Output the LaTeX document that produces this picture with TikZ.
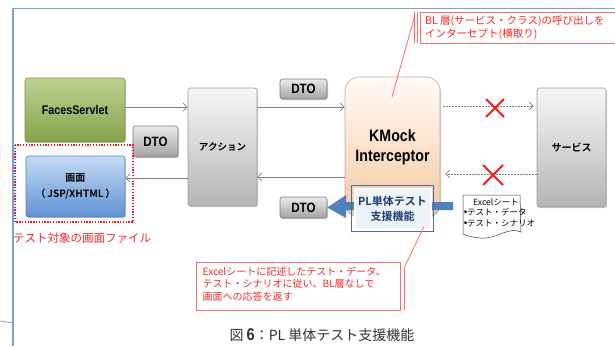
\documentclass[tikz,border=0pt]{standalone}
\usepackage{fontspec}
\setmainfont{Noto Sans CJK JP}[BoldFont={Noto Sans CJK JP Bold}]
\newfontfamily\nar{Liberation Sans}[FakeStretch=0.86]
\usetikzlibrary{arrows.meta,shadows,calc}
\definecolor{framec}{HTML}{7EA0D0}
\definecolor{grtop}{HTML}{BDD291}
\definecolor{grbot}{HTML}{85A24B}
\definecolor{grdraw}{HTML}{7A9448}
\definecolor{bltop}{HTML}{C6DAF5}
\definecolor{blbot}{HTML}{5F93D5}
\definecolor{bldraw}{HTML}{5282C2}
\definecolor{gytop}{HTML}{F6F6F6}
\definecolor{gybot}{HTML}{B5B5B5}
\definecolor{gydraw}{HTML}{9C9C9C}
\definecolor{kmtop}{HTML}{FFFBF7}
\definecolor{kmbot}{HTML}{F6C8A0}
\definecolor{kmdraw}{HTML}{B8AEA6}
\definecolor{plc}{HTML}{4770A8}
\definecolor{plin}{HTML}{EEF3FA}
\definecolor{pltext}{HTML}{1F3D78}
\definecolor{barrow}{HTML}{4F80C0}
\definecolor{redx}{HTML}{FF1A1A}
\definecolor{calred}{HTML}{FF6A6A}
\definecolor{calt}{HTML}{FF2626}
\definecolor{capt}{HTML}{333333}
\definecolor{arrc}{HTML}{808080}
\begin{document}
\begin{tikzpicture}[x=1pt,y=-1pt,
  shade box/.style n args={3}{draw=#3, top color=#1, bottom color=#2, rounded corners=2.5pt, line width=0.6pt,
     drop shadow={shadow xshift=1pt, shadow yshift=-1.2pt, opacity=0.35}, inner sep=0pt, align=center},
  dtobox/.style={shade box={gytop!95!black}{gybot!90!black}{gydraw!80!black}, font=\nar\bfseries\fontsize{13.5}{14}\selectfont},
  arr/.style={draw=arrc, line width=0.7pt, -{Straight Barb[length=4pt,width=8pt]}},
  darr/.style={draw=arrc, line width=0.7pt, dash pattern=on 1.5pt off 1.5pt, -{Straight Barb[length=4pt,width=8pt]}},
  xmark/.style={draw=redx, line width=2pt},
  calbox/.style={draw=calred, line width=0.7pt, fill=white},
  calline/.style={draw=calred, line width=0.8pt},
  caltext/.style={text=calt, align=left, inner sep=0pt}
]
\useasboundingbox (0,0) rectangle (615,346);
\fill[white] (0,0) rectangle (615,346);
% frame
\draw[framec, line width=1.3pt] (13,346) -- (13,8.5) -- (616,8.5);
\draw[framec, line width=0.8pt] (0,321) .. controls (6,321.3) .. (13,323);

% nodes
\node[shade box={grtop}{grbot}{grdraw}, minimum width=100pt, minimum height=64pt,
      font=\nar\bfseries\fontsize{12.5}{14}\selectfont] (fs) at (75,110) {FacesServlet};
\node[shade box={bltop}{blbot}{bldraw}, minimum width=99pt, minimum height=61pt,
      font=\bfseries\fontsize{10}{16}\selectfont] (sc) at (75.5,186.5) {画面\\（\,JSP/XHTML\,）};
\node[shade box={gytop}{gybot}{gydraw}, minimum width=69pt, minimum height=118pt,
      font=\bfseries\fontsize{9.5}{11}\selectfont] (ac) at (222.5,147) {アクション};
\node[shade box={gytop}{gybot}{gydraw}, minimum width=69pt, minimum height=119pt,
      font=\bfseries\fontsize{10}{11}\selectfont] (sv) at (571.5,147.5) {サービス};
\node[shade box={kmtop}{kmbot}{kmdraw}, rounded corners=14pt, minimum width=95pt, minimum height=140pt,
      font=\nar\bfseries\fontsize{16.5}{20}\selectfont] (km) at (392.5,147) {KMock\\Interceptor};
\node[dtobox, minimum width=45pt, minimum height=31pt] (dtoL) at (155.5,141.5) {DTO};
\node[dtobox, minimum width=47pt, minimum height=20pt] (dtoT) at (303.5,89) {DTO};
\node[dtobox, minimum width=47pt, minimum height=21pt] (dtoB) at (303.5,207.5) {DTO};

% red dotted frame and label
\draw[redx, line width=1.5pt, dash pattern=on 1.3pt off 1.5pt] (15,145) rectangle (133,222);
\node[anchor=west, text=calt, inner sep=0pt, font=\fontsize{11.5}{13}\selectfont] (lbl) at (13,238) {テスト対象の画面ファイル};

% arrows
\draw[arr] (fs.east |- 0,107) -- (ac.west |- 0,107);
\draw[arr] (ac.east |- 0,107) -- (km.west |- 0,107);
\draw[darr] ($(km.east |- 0,106)+(3,0)$) -- ($(sv.west |- 0,106)+(-3,0)$);
\draw[darr] (sv.west |- 0,174) -- ($(km.east |- 0,174)+(5,0)$);
\draw[arr] (km.west |- 0,177) -- (ac.east |- 0,177);
\draw[arr] (ac.west |- 0,178) -- (sc.east |- 0,178);

% red crosses
\draw[xmark] (486,99) -- (504,117) (504,99) -- (486,117);
\draw[xmark] (483,165) -- (503,185) (503,165) -- (483,185);

% blue thick arrow
\fill[barrow] (453,202) -- (346,202) -- (346,195) -- (dtoB.east) -- (346,218) -- (346,210) -- (453,210) -- cycle;

% PL box
\node[fill=plin, draw=white, line width=2pt, minimum width=76pt, minimum height=40pt, inner sep=0pt,
      align=center, text=pltext, font=\bfseries\fontsize{11}{15}\selectfont] (pl) at (392.5,208.5) {PL単体テスト\\支援機能};
\draw[plc, line width=1.5pt] ([shift={(-1.8,-1.8)}]pl.north west) rectangle ([shift={(1.8,1.8)}]pl.south east);

% excel sheet
\draw[fill=white, draw=black!75, line width=0.5pt] (463,195) -- (520,195) -- (521,232)
   .. controls (508,226) and (496,240) .. (480,238) .. controls (472,237) and (467,236) .. (463,234) -- cycle;
\node[inner sep=0pt, font=\fontsize{8.5}{10}\selectfont] (xl1) at (496,202) {Excelシート};
\node[anchor=west, inner sep=0pt, font=\fontsize{8.5}{10}\selectfont] (xl2) at (464,212.5) {{\nar\bfseries\fontsize{10}{10}\selectfont •}テスト・データ};
\node[anchor=west, inner sep=0pt, font=\fontsize{8.5}{10}\selectfont] (xl3) at (464,223.5) {{\nar\bfseries\fontsize{10}{10}\selectfont •}テスト・シナリオ};

% top callout
\coordinate (tcA) at (415,15);
\coordinate (tcB) at (392,97);
\draw[calline] (tcA) -- (tcB);
\draw[calbox] (420,12) rectangle (630,43);
\draw[calline] (414,12) -- (414,43) (417.5,12) -- (417.5,43);
\node[caltext, anchor=north west, font=\fontsize{10.5}{13}\selectfont] (tct) at (425,15.5)
  {BL 層(サービス・クラス)の呼び出しを\\インターセプト(横取り)};

% bottom callout
\coordinate (bcA) at (404,268);
\coordinate (bcB) at (424,226.5);
\draw[calline] (bcA) -- (bcB);
\draw[calbox] (196,262) rectangle (400,310);
\draw[calline] (404,268) -- (404,310);
\node[caltext, anchor=north west, font=\fontsize{10}{12.5}\selectfont] (bct) at (202.5,266.5)
  {Excelシートに記述したテスト・データ、\\テスト・シナリオに従い、BL層なしで\\画面への応答を返す};

% caption
\node[text=capt, inner sep=0pt, font=\fontsize{14}{16}\selectfont] (cap) at (322,335)
  {図 {\nar\bfseries\fontsize{17}{16}\selectfont 6}：PL 単体テスト支援機能};
\end{tikzpicture}
\end{document}
